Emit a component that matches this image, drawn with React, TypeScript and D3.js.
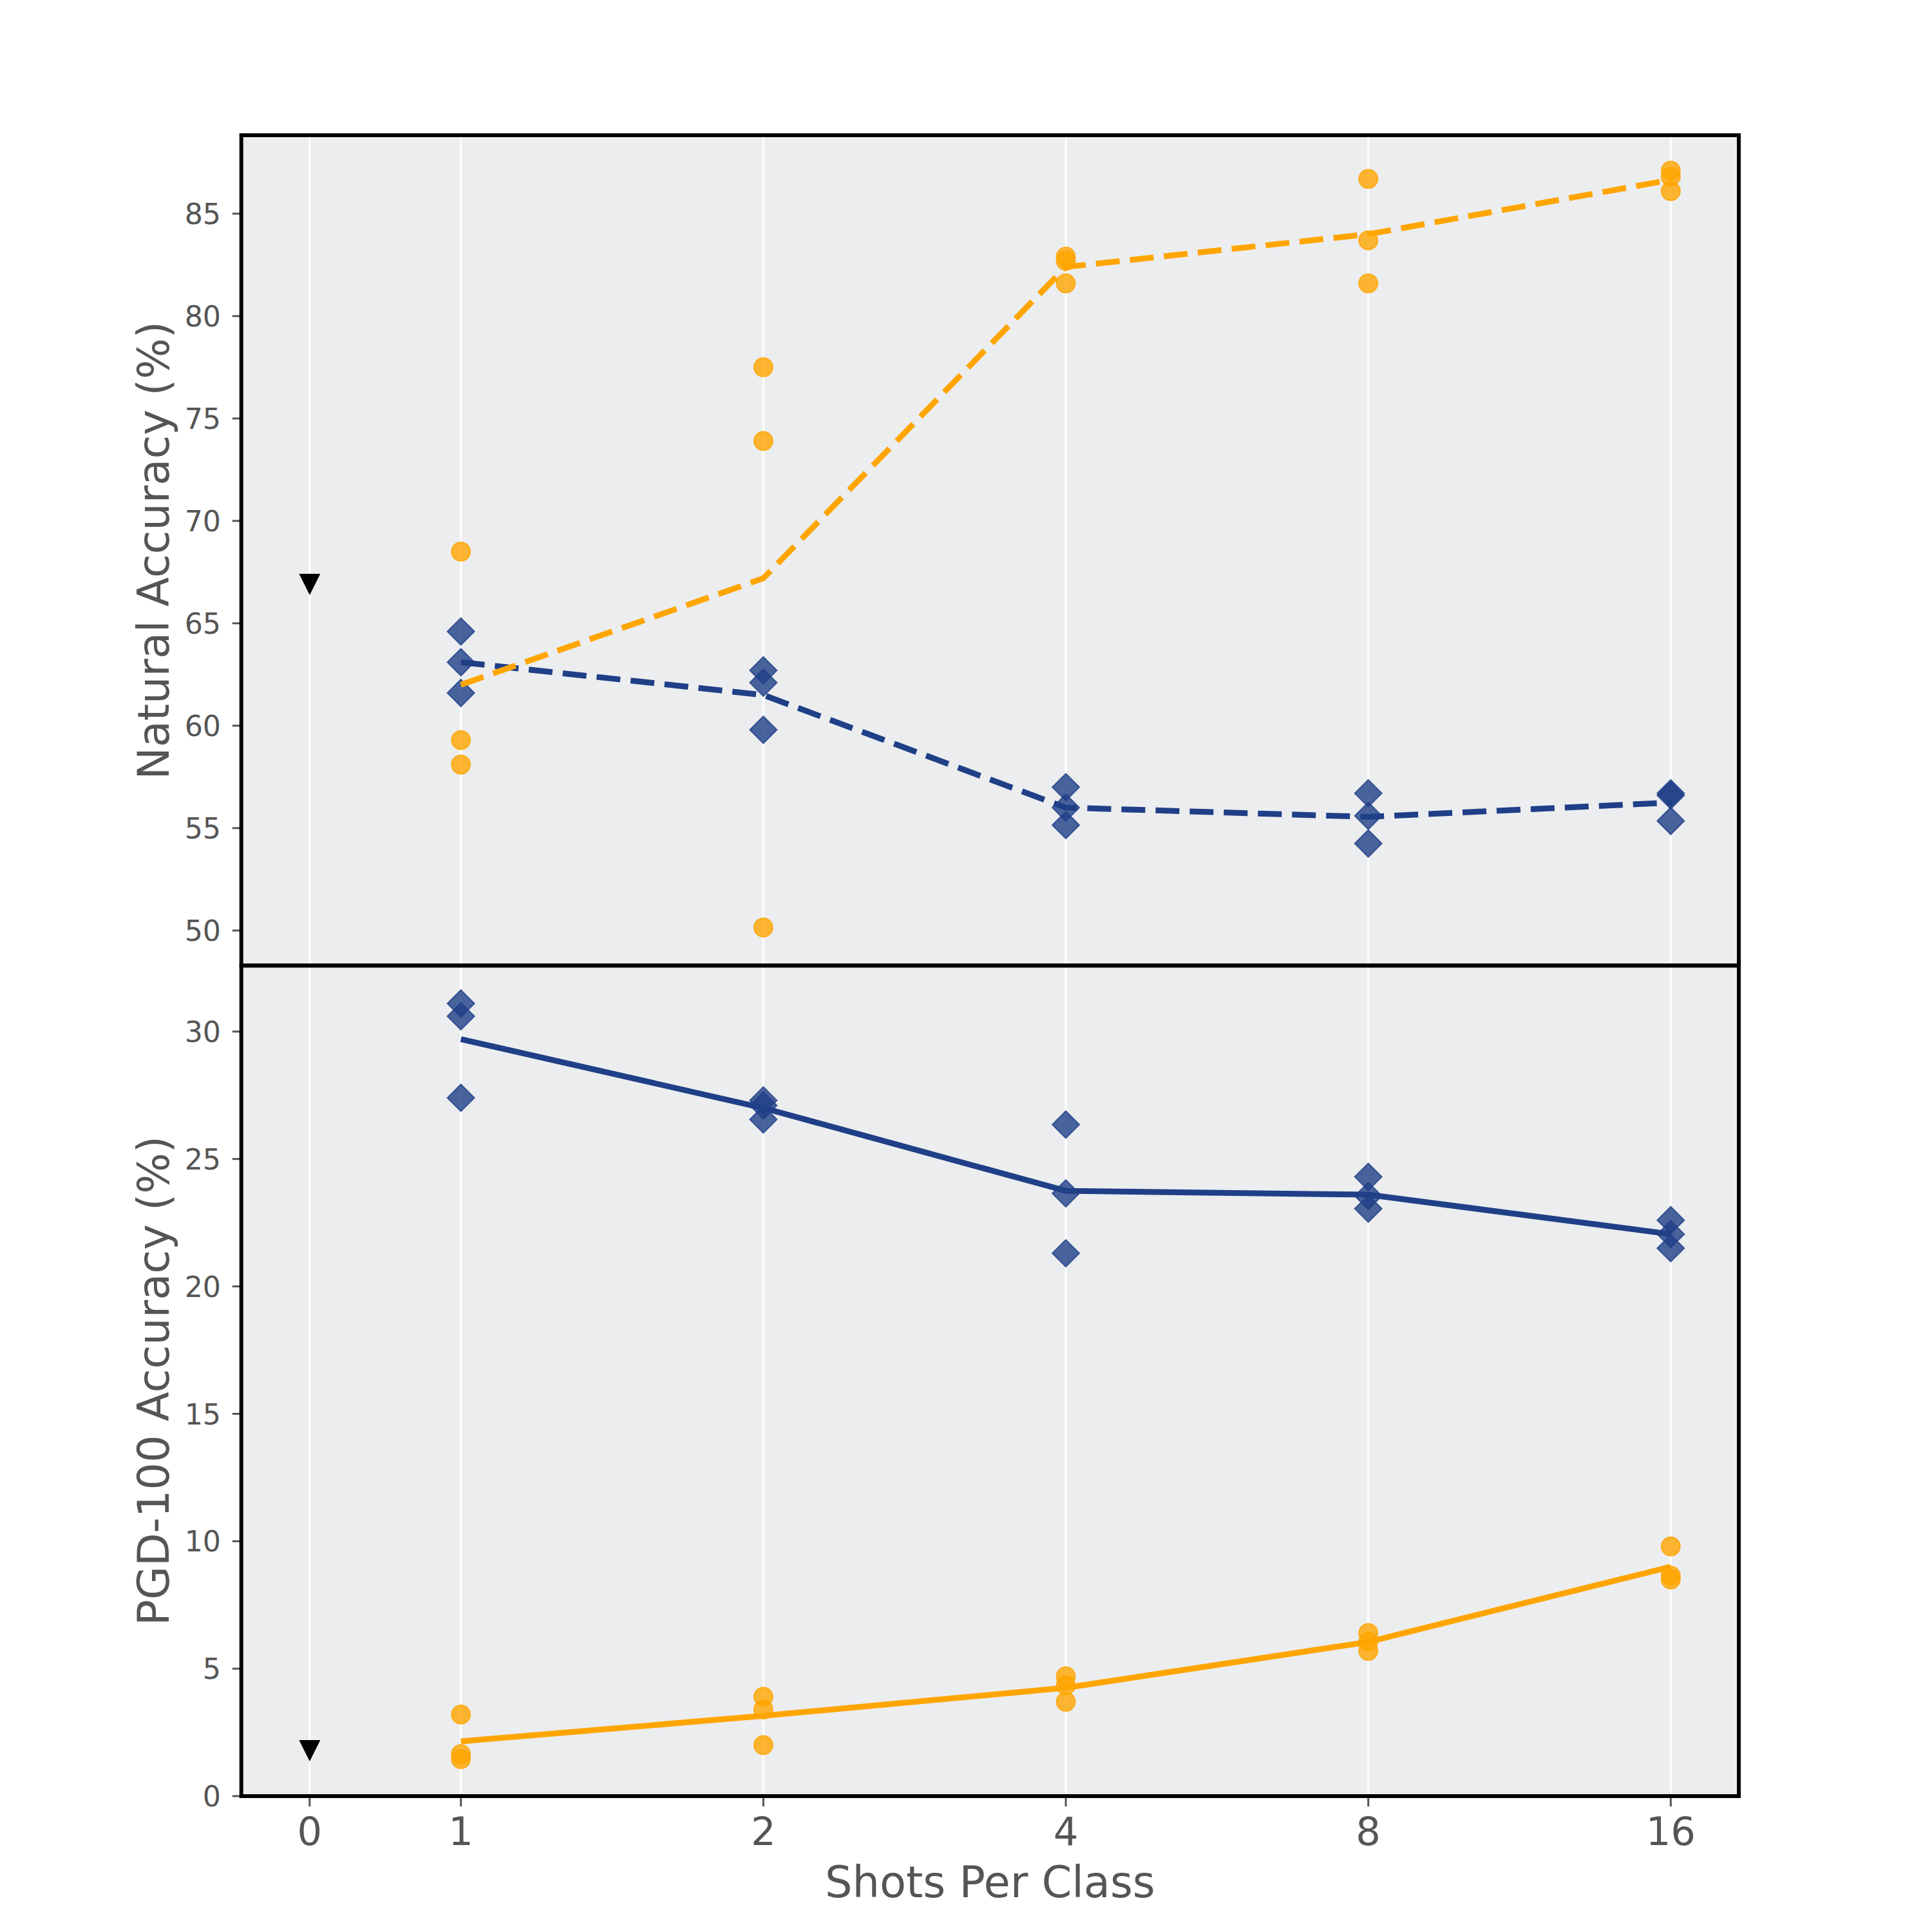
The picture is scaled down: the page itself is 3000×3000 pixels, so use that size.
import React from "react";
import * as d3 from "d3";

// ---- data ----
const shots = [1, 2, 4, 8, 16];
const xTicks = [0, 1, 2, 4, 8, 16];

const natBlue = [
  [64.6, 63.1, 61.6],
  [62.7, 62.1, 59.8],
  [57.0, 56.0, 55.15],
  [56.7, 55.6, 54.25],
  [56.7, 56.6, 55.35],
];
const natBlueMean = [63.1, 61.5, 56.0, 55.55, 56.25];

const natOrange = [
  [68.5, 59.3, 58.1],
  [77.5, 73.9, 50.15],
  [82.9, 82.7, 81.6],
  [86.7, 83.7, 81.6],
  [87.1, 86.8, 86.1],
];
const natOrangeMean = [62.0, 67.2, 82.4, 84.0, 86.65];

const pgdBlue = [
  [31.1, 30.6, 27.4],
  [27.3, 27.1, 26.55],
  [26.35, 23.65, 21.3],
  [24.3, 23.55, 23.05],
  [22.6, 22.05, 21.5],
];
const pgdBlueMean = [29.7, 27.0, 23.75, 23.6, 22.05];

const pgdOrange = [
  [3.2, 1.65, 1.45],
  [3.9, 3.4, 2.0],
  [4.7, 4.35, 3.7],
  [6.4, 6.05, 5.7],
  [9.8, 8.65, 8.5],
];
const pgdOrangeMean = [2.15, 3.15, 4.25, 6.05, 9.0];

const zeroShotNat = [66.9];
const zeroShotPgd = [1.78];

const natTicks = [50, 55, 60, 65, 70, 75, 80, 85];
const pgdTicks = [0, 5, 10, 15, 20, 25, 30];

// ---- style ----
const BLUE = "#1f3f87";
const ORANGE = "#ffa500";
const BG = "#ecedef";
const TXT = "#555555";
const FONT = "DejaVu Sans, sans-serif";

const L = 374.7, R = 2700, T = 210, M = 1499.3, B = 2789;

const pos = (s: number) => (s === 0 ? -0.5 : Math.log2(s));
const x = d3.scaleLinear().domain([-0.726, 4.225]).range([L, R]);
const yNat = d3.scaleLinear().domain([48.29, 88.83]).range([M, T]);
const yPgd = d3.scaleLinear().domain([0, 32.59]).range([B, M]);

const diamond = (cx: number, cy: number, r: number) =>
  `M${cx},${cy - r}L${cx + r},${cy}L${cx},${cy + r}L${cx - r},${cy}Z`;
const triDown = (cx: number, cy: number, h: number) =>
  `M${cx - h},${cy - h}L${cx + h},${cy - h}L${cx},${cy + h}Z`;

function Panel({
  y, blue, blueMean, orange, orangeMean, zero, ticks, top, bottom, dashed, label,
}: any) {
  const line = d3
    .line<number>()
    .x((_, i) => x(pos(shots[i])))
    .y((v) => y(v));
  const dash = dashed ? "37 16" : undefined;
  const clipId = "clip" + Math.round(top);
  return (
    <g>
      <rect x={L} y={top} width={R - L} height={bottom - top} fill={BG} />
      <clipPath id={clipId}>
        <rect x={L} y={top} width={R - L} height={bottom - top} />
      </clipPath>
      {xTicks.map((t) => (
        <line key={t} x1={x(pos(t))} x2={x(pos(t))} y1={top} y2={bottom} stroke="#ffffff" strokeWidth={3} />
      ))}
      <g clipPath={`url(#${clipId})`}>
        {blue.map((arr: number[], i: number) =>
          arr.map((v: number, j: number) => (
            <path
              key={`b${i}-${j}`}
              d={diamond(x(pos(shots[i])), y(v), 21)}
              fill={BLUE}
              fillOpacity={0.8}
              stroke={BLUE}
              strokeOpacity={0.8}
              strokeWidth={2}
            />
          ))
        )}
        {orange.map((arr: number[], i: number) =>
          arr.map((v: number, j: number) => (
            <circle
              key={`o${i}-${j}`}
              cx={x(pos(shots[i]))}
              cy={y(v)}
              r={14.5}
              fill={ORANGE}
              fillOpacity={0.8}
              stroke={ORANGE}
              strokeOpacity={0.8}
              strokeWidth={2}
            />
          ))
        )}
        {zero.map((v: number, i: number) => (
          <path key={`z${i}`} d={triDown(x(pos(0)), y(v), 16.5)} fill="#000000" />
        ))}
        <path d={line(blueMean) || ""} fill="none" stroke={BLUE} strokeWidth={9} strokeDasharray={dash} />
        <path d={line(orangeMean) || ""} fill="none" stroke={ORANGE} strokeWidth={9} strokeDasharray={dash} />
      </g>
      {ticks.map((t: number) => (
        <g key={t}>
          <line x1={L - 14} x2={L} y1={y(t)} y2={y(t)} stroke={TXT} strokeWidth={3} />
          <text
            x={343}
            y={y(t)}
            dy="0.365em"
            textAnchor="end"
            fontFamily={FONT}
            fontSize={44.3}
            fill={TXT}
          >
            {t}
          </text>
        </g>
      ))}
      <text
        transform={`translate(262,${(top + bottom) / 2}) rotate(-90)`}
        textAnchor="middle"
        fontFamily={FONT}
        fontSize={67}
        fill={TXT}
      >
        {label}
      </text>
    </g>
  );
}

export default function App() {
  return (
    <svg
      width={3000}
      height={3000}
      viewBox="0 0 3000 3000"
      style={{ position: "absolute", left: 0, top: 0, background: "#ffffff" }}
    >
      <rect x={0} y={0} width={3000} height={3000} fill="#ffffff" />
      <Panel
        y={yNat}
        blue={natBlue}
        blueMean={natBlueMean}
        orange={natOrange}
        orangeMean={natOrangeMean}
        zero={zeroShotNat}
        ticks={natTicks}
        top={T}
        bottom={M}
        dashed={true}
        label="Natural Accuracy (%)"
      />
      <Panel
        y={yPgd}
        blue={pgdBlue}
        blueMean={pgdBlueMean}
        orange={pgdOrange}
        orangeMean={pgdOrangeMean}
        zero={zeroShotPgd}
        ticks={pgdTicks}
        top={M}
        bottom={B}
        dashed={false}
        label="PGD-100 Accuracy (%)"
      />
      {xTicks.map((t) => (
        <g key={t}>
          <line x1={x(pos(t))} x2={x(pos(t))} y1={B} y2={B + 16} stroke={TXT} strokeWidth={3} />
          <text
            x={x(pos(t))}
            y={2865}
            textAnchor="middle"
            fontFamily={FONT}
            fontSize={60.8}
            fill={TXT}
          >
            {t}
          </text>
        </g>
      ))}
      <text x={(L + R) / 2} y={2946} textAnchor="middle" fontFamily={FONT} fontSize={67} fill={TXT}>
        Shots Per Class
      </text>
      {/* spines */}
      <rect x={L} y={T} width={R - L} height={M - T} fill="none" stroke="#000000" strokeWidth={6} />
      <rect x={L} y={M} width={R - L} height={B - M} fill="none" stroke="#000000" strokeWidth={6} />
    </svg>
  );
}
